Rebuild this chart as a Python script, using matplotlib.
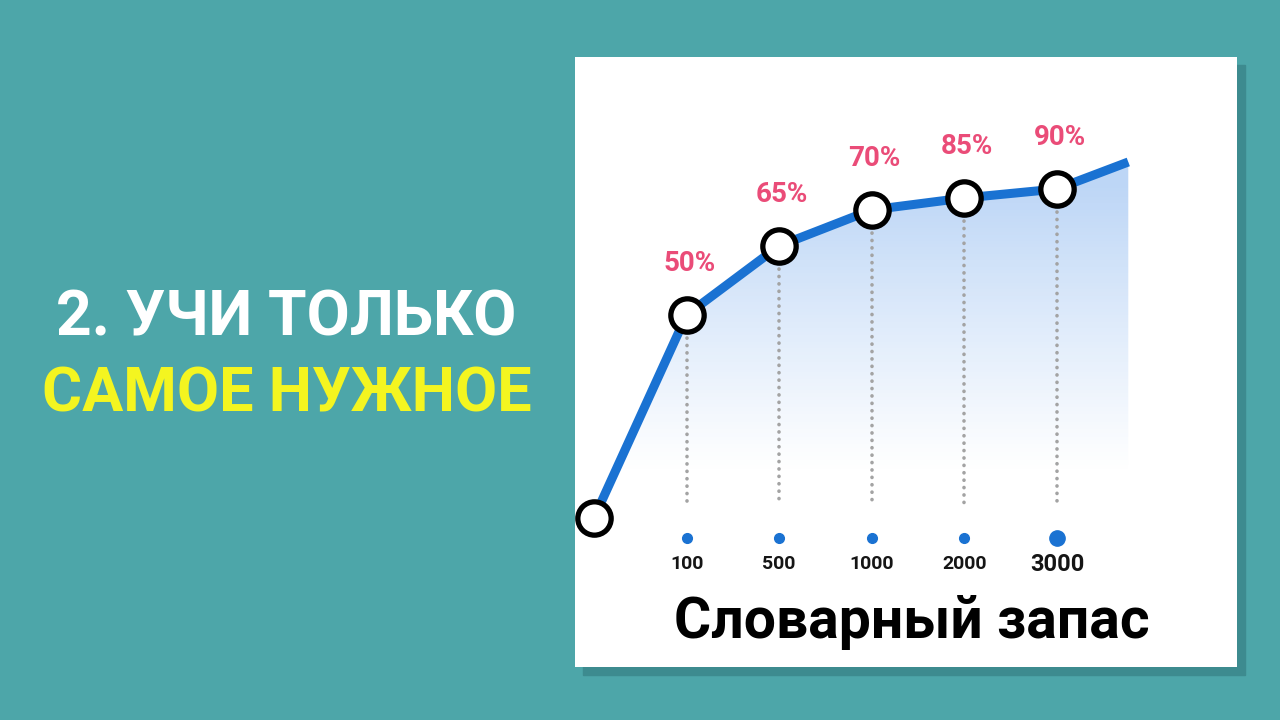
import matplotlib
matplotlib.use("Agg")
import matplotlib.pyplot as plt
import numpy as np
from matplotlib import font_manager
from matplotlib.patches import Rectangle

# data
steps = ["100", "500", "1000", "2000", "3000"]
step_pos = [1, 2, 3, 4, 5]
shares = ["50%", "65%", "70%", "85%", "90%"]
curve_x = [0, 1, 2, 3, 4, 5, 5.77]
curve_level = [0, 56.4, 75.6, 85.6, 88.9, 91.4, 98.9]

# pick a narrow bold face if there is one
names = {f.name for f in font_manager.fontManager.ttflist}
narrow = "Liberation Sans Narrow" if "Liberation Sans Narrow" in names else "Roboto"

bg = "#4da6a9"
blue = "#1a72d2"
pink = "#ea4c78"

fig = plt.figure(figsize=(12.8, 7.2), dpi=100)
fig.patch.set_facecolor(bg)

W, H = 1280, 720
# panel shadow, behind the axes
fig.patches.append(Rectangle((583 / W, (720 - 675) / H), 662 / W, 610 / H,
                             transform=fig.transFigure, color="#3d8b8f", zorder=-5))

ax = fig.add_axes([575 / W, (720 - 667) / H, 662 / W, 610 / H])
ax.set_zorder(1)
ax.set_facecolor("white")
for s in ax.spines.values():
    s.set_visible(False)
ax.set_xticks([])
ax.set_yticks([])
ax.set_xlim(-0.205, 6.944)
ax.set_ylim(-41.39, 128.06)

# gradient fill under the curve, pale blue fading to white
poly = ax.fill_between(curve_x, curve_level, 0, color="none", lw=0)
grad_y = np.linspace(0, 1, 256)[:, None]
alpha = np.clip((grad_y - 0.12) / 0.8, 0, 1) ** 1.1 * 0.33
img = np.zeros((256, 1, 4))
img[..., 0] = 0.22
img[..., 1] = 0.52
img[..., 2] = 0.90
img[..., 3] = alpha
im = ax.imshow(img, extent=[curve_x[0], curve_x[-1], 0, 100], origin="lower",
               aspect="auto", zorder=1, interpolation="bilinear")
im.set_clip_path(poly.get_paths()[0], transform=ax.transData)

# dotted drop lines, tick dots and labels
for i, (xp, lab) in enumerate(zip(step_pos, steps)):
    lvl = curve_level[xp]
    ax.plot([xp, xp], [lvl - 6.5, 3.6], color="#a3a3a3", lw=2.6,
            linestyle=(0, (0.05, 2.0)), dash_capstyle="round", zorder=2)
    big = i == len(steps) - 1
    ax.plot(xp, -5.6, "o", color=blue, ms=11 if big else 7, zorder=3)
    ax.text(xp, -12.8, lab, ha="center", va="center", fontsize=17 if big else 14,
            fontweight="bold", family=[narrow, "DejaVu Sans"], color="#151515")

ax.plot(curve_x, curve_level, color=blue, lw=6.5, solid_capstyle="butt", zorder=4)
ax.plot(curve_x[:-1], curve_level[:-1], "o", ms=24, mfc="white", mec="black",
        mew=3.8, zorder=5)

for xp, lab in zip(step_pos, shares):
    ax.annotate(lab, (xp, curve_level[xp]), xytext=(2, 37), textcoords="offset points",
                ha="center", va="center", fontsize=20, fontweight="bold",
                family=[narrow, "DejaVu Sans"], color=pink, zorder=6)

ax.text(3.43, -28.9, "Словарный запас", ha="center", va="center", fontsize=41,
        fontweight="bold", family=[narrow, "DejaVu Sans"], color="black")

# left heading
fig.text(286 / W, (720 - 318) / H, "2. УЧИ ТОЛЬКО", ha="center", va="center",
         fontsize=45, fontweight="bold", family=[narrow, "DejaVu Sans"], color="white")
fig.text(287 / W, (720 - 395) / H, "САМОЕ НУЖНОЕ", ha="center", va="center",
         fontsize=44, fontweight="bold", family=[narrow, "DejaVu Sans"], color="#f4f520")

fig.savefig("out.png", dpi=100, facecolor=fig.get_facecolor())
